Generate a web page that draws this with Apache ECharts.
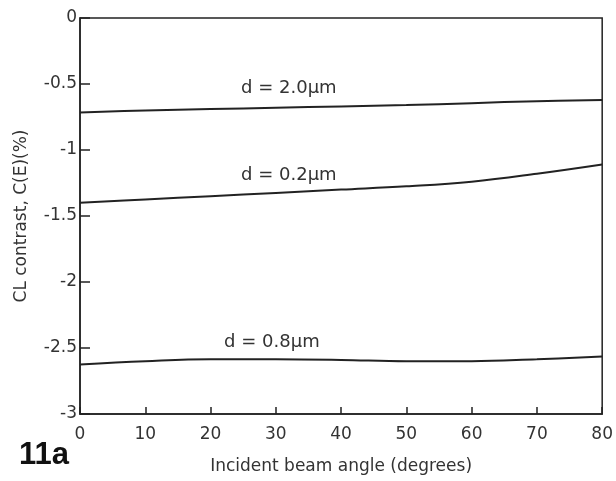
<!DOCTYPE html>
<html>
<head>
<meta charset="utf-8">
<script src="https://cdn.jsdelivr.net/npm/echarts@6/dist/echarts.min.js"></script>
<style>html,body{margin:0;padding:0;background:#fff;}#c{width:616px;height:481px;}</style>
</head>
<body>
<div id="c"></div>
<script>
var angles = [0, 10, 20, 30, 40, 50, 60, 70, 80];
var d20 = [-0.715, -0.70, -0.69, -0.68, -0.67, -0.66, -0.645, -0.63, -0.622];
var d02 = [-1.40, -1.375, -1.35, -1.325, -1.30, -1.275, -1.24, -1.18, -1.11];
var d08 = [-2.625, -2.60, -2.585, -2.585, -2.59, -2.60, -2.60, -2.585, -2.565];
var seriesNames = ['d = 2.0\u03bcm', 'd = 0.2\u03bcm', 'd = 0.8\u03bcm'];
var labelAt = [[32, -0.53], [32, -1.19], [29.4, -2.46]];
var yTicks = [0, -0.5, -1, -1.5, -2, -2.5, -3];

var FONT = 'DejaVu Sans';
var INK = '#222';
function pairs(v){ return angles.map(function(a,i){ return [a, v[i]]; }); }
function mk(name, vals, lab){
  return {
    type: 'line', name: name, data: pairs(vals), smooth: 0.4, symbol: 'none',
    lineStyle: { color: INK, width: 2 },
    markPoint: {
      symbol: 'circle', symbolSize: 0, silent: true,
      data: [{ coord: lab, value: name }],
      label: { show: true, position: 'inside', formatter: name, color: '#333', fontFamily: FONT, fontSize: 18 }
    }
  };
}
var chart = echarts.init(document.getElementById('c'));
chart.setOption({
  animation: false,
  backgroundColor: '#fff',
  grid: { left: 80, right: 13, top: 18, bottom: 67, show: true, borderColor: INK, borderWidth: 1.5, backgroundColor: 'transparent' },
  xAxis: {
    type: 'value', min: 0, max: 80, interval: 10,
    name: 'Incident beam angle (degrees)', nameLocation: 'middle', nameGap: 44,
    nameTextStyle: { color: '#333', fontFamily: FONT, fontSize: 17 },
    axisLine: { show: true, onZero: false, lineStyle: { color: INK, width: 1.5 } },
    axisTick: { show: true, inside: true, length: 7, lineStyle: { color: INK, width: 1.5 } },
    axisLabel: { color: '#333', fontFamily: FONT, fontSize: 17, margin: 12 },
    splitLine: { show: false }
  },
  yAxis: {
    type: 'value', min: -3, max: 0, interval: 0.5,
    name: 'CL contrast, C(E)(%)', nameLocation: 'middle', nameGap: 50,
    nameTextStyle: { color: '#333', fontFamily: FONT, fontSize: 17 },
    axisLine: { show: true, onZero: false, lineStyle: { color: INK, width: 1.5 } },
    axisTick: { show: true, inside: true, length: 10, lineStyle: { color: INK, width: 1.5 } },
    axisLabel: { color: '#333', fontFamily: FONT, fontSize: 17, margin: 3 },
    splitLine: { show: false }
  },
  graphic: [{
    type: 'text', left: 19, top: 440,
    style: { text: '11a', fill: '#111', font: 'bold 31px "Liberation Sans Narrow", "Liberation Sans", sans-serif' }
  }],
  series: [mk(seriesNames[0], d20, labelAt[0]), mk(seriesNames[1], d02, labelAt[1]), mk(seriesNames[2], d08, labelAt[2])]
});
</script>
</body>
</html>
